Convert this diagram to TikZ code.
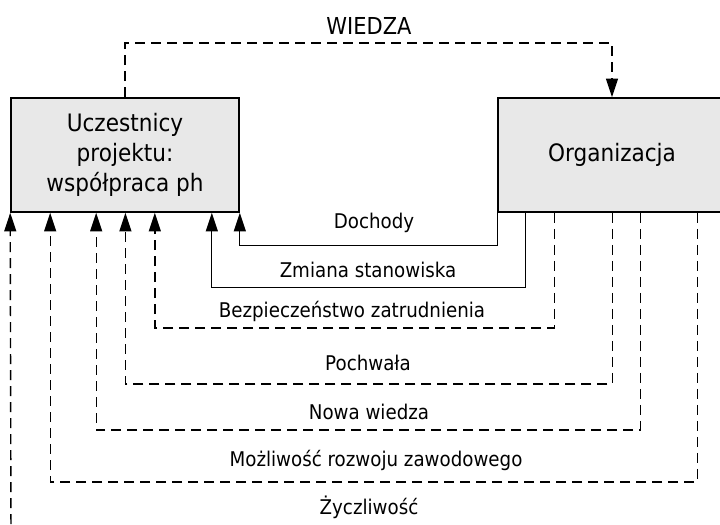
\documentclass[tikz,border=0pt]{standalone}
\usepackage{fontspec}
\setmainfont{DejaVu Sans}[FakeStretch=0.9]
\usetikzlibrary{arrows.meta, calc}

\begin{document}
\begin{tikzpicture}[x=0.75pt, y=0.75pt,
		>={Triangle[length=14pt, width=9pt]},   % spitze Pfeile
		box/.style={draw, line width=1.2pt, fill=gray!18, align=center, inner sep=0pt,
			minimum width=171pt, minimum height=85.5pt, font=\fontsize{18}{22.5}\selectfont},
		fbsolid/.style={->, line width=1pt},
		fbdash/.style={->, line width=1.05pt, dash pattern=on 7.5pt off 4.5pt},
		lbl/.style={font=\fontsize{15.2}{18}\selectfont}]
		% Bildbereich
		\path[use as bounding box] (0,0) rectangle (720,-524);
		\clip (0,0) rectangle (720,-524);
		% Kaesten
		\node[box] (uczestnicy) at (125,-155) {Uczestnicy\\projektu:\\współpraca ph};
		\node[box] (organizacja) at (612,-155) {Organizacja};
		% Wissen nach oben
		\node[lbl, font=\fontsize{17.5}{18}\selectfont] (wiedza) at (369,-26) {WIEDZA};
		\draw[fbdash] (uczestnicy.north) -- ++(0,54) -| (organizacja.north);
		% Rueckfluesse
		\draw[fbsolid] (organizacja.south west) -- ++(0,-33) -| (uczestnicy.south east);
		\draw[fbsolid] ($(organizacja.south west)+(28,0)$) -- ++(0,-75) -| ($(uczestnicy.south east)+(-28,0)$);
		\draw[fbdash] ($(organizacja.south west)+(57,0)$) -- ++(0,-115) -| ($(uczestnicy.south east)+(-85,0)$);
		\draw[fbdash] ($(organizacja.south)+(0.4,0)$) -- ++(0,-171) -| ($(uczestnicy.south)+(0.4,0)$);
		\draw[fbdash] ($(organizacja.south west)+(143,0)$) -- ++(0,-217) -| ($(uczestnicy.south west)+(86,0)$);
		\draw[fbdash] ($(organizacja.south west)+(200,0)$) -- ++(0,-269) -| ($(uczestnicy.south west)+(40,0)$);
		\coordinate (zyczliwosc dol) at (11,-540);
		\draw[fbdash] (zyczliwosc dol) -- (uczestnicy.south west);
		% Beschriftungen
		\node[lbl] (dochody) at (374,-223) {Dochody};
		\node[lbl] (zmiana) at (368,-270) {Zmiana stanowiska};
		\node[lbl] (bezpieczenstwo) at (352,-311) {Bezpieczeństwo zatrudnienia};
		\node[lbl] (pochwala) at (368,-363) {Pochwała};
		\node[lbl] (nowa) at (369,-412) {Nowa wiedza};
		\node[lbl] (mozliwosc) at (376,-460) {Możliwość rozwoju zawodowego};
		\node[lbl] (zyczliwosc) at (369,-507) {Życzliwość};
	\end{tikzpicture}
\end{document}
